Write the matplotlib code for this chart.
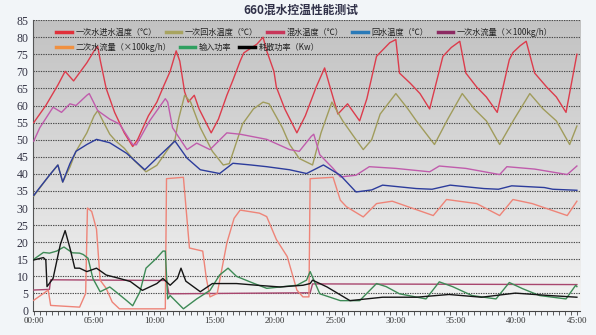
import numpy as np
import matplotlib
matplotlib.use("Agg")
import matplotlib.pyplot as plt
from matplotlib.colors import LinearSegmentedColormap
from matplotlib.lines import Line2D

plt.rcParams['font.family'] = ['Noto Sans CJK SC', 'DejaVu Sans']

title = "660混水控温性能测试"
names = ["一次水进水温度（℃）", "一次回水温度（℃）", "混水温度（℃）", "回水温度（℃）",
         "一次水流量（×100kg/h）", "二次水流量（×100kg/h）", "输入功率", "耗散功率（Kw）"]

# time in minutes
red_t = [0, 1, 2, 2.6, 3.3, 4.4, 5.0, 5.3, 5.5, 6.0, 6.7, 7.5, 8.2, 8.6, 9.5, 10.2, 10.8, 11.3, 11.8, 12.1,
         12.5, 12.8, 13.3, 13.7, 14.7, 15.3, 16.0, 16.5, 17.1, 17.4, 18.5, 19.0, 19.3, 19.9, 20.1, 20.8, 21.8,
         22.5, 23.4, 24.1, 24.5, 25.2, 26.0, 27.0, 27.6, 28.4, 29.5, 30.0, 30.3, 31.2, 32.0, 32.8, 33.9, 34.6,
         35.3, 35.8, 36.7, 37.5, 38.4, 39.4, 39.7, 40.3, 40.8, 41.5, 42.5, 43.3, 44.1, 45.0]
red_v = [55, 60, 66, 70, 67.2, 72.5, 76, 77.3, 73.4, 65, 58, 52, 48, 50, 57, 61, 66, 70, 76, 73,
         64, 61, 63, 59, 52, 56, 63, 67.4, 73, 75.4, 78, 80, 76, 70, 65.4, 59, 52,
         57, 65.4, 71, 66, 57.5, 60.5, 55.5, 62, 74.4, 78.4, 79.3, 69.5, 66.5, 63.5, 59, 74.4, 77,
         78.8, 69.5, 65.4, 62.5, 58, 73.4, 75.5, 77.5, 78.8, 69.5, 65.4, 62.5, 58, 75]

olive_t = [0, 1.3, 2.0, 2.4, 3.0, 3.5, 4.4, 5.0, 5.3, 5.8, 6.3, 6.8, 7.5, 8.3, 9.3, 10.2, 11.0, 11.7, 12.0, 12.5,
           13.0, 13.8, 14.8, 15.7, 16.2, 17.3, 18.2, 19.0, 19.5, 20.6, 21.2, 22.0, 23.1, 23.8, 24.7, 25.6, 26.5,
           27.3, 28.0, 28.7, 30.0, 31.0, 31.7, 33.2, 34.3, 35.5, 36.5, 37.5, 38.6, 39.8, 41.1, 42.2, 43.3, 44.4, 45.0]
olive_v = [33.5, 39.6, 42.6, 37.6, 42, 46.6, 52, 57, 58.5, 55, 51.6, 49.6, 47.5, 44, 40.6, 42.5, 46.6, 50, 56, 63,
           61, 53.5, 46.6, 42.6, 43, 54.6, 59, 61, 60.5, 53.5, 48.6, 44.5, 42.6, 52, 61, 55.5, 51,
           47.1, 50, 57.5, 63.5, 59, 55.5, 48.6, 56, 63.5, 59, 55.5, 48.6, 56, 63.5, 59, 55.5, 48.6, 54]

mix_t = [0, 0.5, 1.6, 2.3, 3.0, 3.5, 4.4, 4.6, 5.3, 6.3, 7.1, 8.2, 8.5, 9.6, 10.9, 11.1, 11.5, 12.7, 13.5, 14.6,
         16.0, 17.1, 19.3, 21.2, 22.0, 23.0, 23.2, 23.7, 24.8, 25.4, 26.7, 27.8, 30.0, 32.8, 33.6, 35.8, 38.6,
         39.2, 41.5, 44.2, 45.0]
mix_v = [49.6, 53.5, 59.5, 58, 60.5, 60, 63, 63.5, 58.5, 56, 54.6, 48.6, 48.5, 55.5, 62, 61, 53.5, 47.1, 49, 47.1,
         52, 51.6, 50.1, 47.1, 46.6, 51, 51.6, 45.6, 41.6, 39.1, 39.6, 42.1, 41.6, 40.6, 42.3, 41.6, 39.8,
         42.1, 41.4, 39.8, 42.3]

blue_t = [0, 0.5, 1.3, 2.0, 2.4, 3.0, 3.5, 4.4, 5.2, 6.3, 7.7, 9.2, 10.2, 11.7, 12.7, 13.8, 15.4, 16.5, 18.0, 19.3,
          21.2, 22.6, 24.0, 25.4, 26.7, 28.0, 28.9, 31.7, 33.0, 34.5, 37.3, 38.5, 39.6, 42.3, 43.0, 45.0]
blue_v = [33.7, 36, 39.6, 42.6, 37.6, 43, 46.6, 48.6, 50.1, 49.1, 46, 41.2, 44.6, 49.6, 44.6, 41.2, 40.1, 43.1, 42.6, 42.1,
          41.2, 40.1, 42.6, 39.6, 34.7, 35.3, 36.7, 35.7, 35.5, 36.7, 35.7, 35.5, 36.5, 36.0, 35.5, 35.2]

pflow_t = [0, 1.3, 1.4, 11.0, 11.2, 22.9, 23.1, 45.0]
pflow_v = [6, 6.2, 9, 8.8, 4.9, 5.2, 7.8, 7.6]

sflow_t = [0, 1.2, 1.4, 3.8, 4.3, 4.45, 4.8, 5.2, 5.5, 6.0, 6.5, 7.1, 10.9, 11.0, 12.4, 12.9, 14.0, 14.3, 14.6, 15.2,
           16.0, 16.6, 17.1, 18.7, 19.3, 20.1, 21.0, 21.8, 22.3, 22.8, 22.9, 24.8, 25.4, 25.9, 27.3, 28.4, 29.7,
           33.1, 34.2, 36.7, 38.6, 39.7, 41.3, 44.2, 45.0]
sflow_v = [3, 6, 1.5, 1, 5, 30, 29, 23.8, 8.9, 6.5, 2.5, 0.5, 0.5, 38.6, 39, 18.3, 17.4, 9.4, 4, 5,
           19.8, 27, 29.4, 28.5, 27.5, 20.8, 15.8, 6, 4, 4, 38.6, 39, 32.3, 30.4, 27.4, 31.3, 32,
           27.8, 32.5, 31.3, 27.8, 32.5, 31.3, 27.8, 32]

pin_t = [0, 0.8, 1.3, 1.9, 2.5, 3.2, 3.8, 4.1, 4.5, 4.9, 5.5, 6.3, 6.8, 7.7, 8.2, 8.8, 9.3, 10.2, 10.7, 10.9,
         11.1, 11.3, 12.4, 13.5, 14.6, 15.4, 16.1, 16.8, 18.2, 19.3, 20.7, 21.8, 22.6, 22.9, 23.7, 25.4, 27.0,
         28.4, 29.2, 30.3, 32.5, 33.6, 34.7, 36.3, 38.3, 39.4, 40.5, 41.9, 44.1, 44.9, 45.0]
pin_v = [15, 17, 16.8, 17.4, 18.6, 16.9, 16.8, 16.4, 15.3, 9.4, 5.5, 6.9, 5.5, 2.9, 1.4, 5.5, 12.4, 15.4, 17.4, 17.4,
         3.4, 4.4, 0.5, 3.4, 5.9, 10.4, 12.4, 10, 8, 6.5, 7, 7.4, 8.9, 11.4, 4.9, 2.9, 2.9,
         7.9, 7, 4.9, 3.4, 8.4, 7, 4.4, 3.4, 8.2, 6.4, 4.4, 3.4, 7.4, 7]

pdis_t = [0, 0.8, 1.0, 1.1, 1.6, 2.2, 2.6, 3.0, 3.4, 3.8, 4.4, 5.2, 6.0, 7.1, 8.0, 9.0, 10.2, 10.7, 11.3, 11.9,
          12.2, 12.6, 13.8, 14.8, 16.8, 18.5, 20.4, 22.3, 22.9, 23.1, 24.3, 26.2, 28.9, 31.7, 34.4, 37.1, 39.9,
          42.7, 45.0]
pdis_v = [14.8, 15.5, 14.8, 7, 9.4, 19.3, 23.4, 18.3, 12.4, 12.4, 11.4, 12.4, 10.4, 9.4, 8.5, 5.9, 7.9, 9.4, 7.4, 9.4,
          12.4, 8.6, 5.5, 7.9, 7.9, 7.4, 6.9, 7.4, 7.9, 8.9, 6.9, 2.9, 3.9, 3.9, 4.7, 3.9, 5.1,
          4.4, 3.9]

x_ticks = [0, 5, 10, 15, 20, 25, 30, 35, 40, 45]
x_labels = ["00:00", "05:00", "10:00", "15:00", "20:00", "25:00", "30:00", "35:00", "40:00", "45:00"]
y_ticks = list(range(0, 90, 5))

series = [
    (red_t, red_v, '#dc3c4c'),
    (olive_t, olive_v, '#a09c5c'),
    (mix_t, mix_v, '#c05cac'),
    (blue_t, blue_v, '#2c3c9c'),
    (pflow_t, pflow_v, '#a8466e'),
    (sflow_t, sflow_v, '#ee8478'),
    (pin_t, pin_v, '#3e8a56'),
    (pdis_t, pdis_v, '#151515'),
]
legend_colors = ['#e0303a', '#a8a460', '#c8365a', '#2a7ab8', '#8c2a62', '#f09040', '#30a060', '#000000']

fig = plt.figure(figsize=(5.96, 3.35), dpi=100)
fig.patch.set_facecolor('#f2f5f8')
ax = fig.add_axes([0.055, 0.073, 0.918, 0.867])

xmin, xmax = -0.08, 45.25
ymin, ymax = 0, 85
cmap = LinearSegmentedColormap.from_list('bg', ['#c2c2c2', '#dadada', '#f4f4f4'])
ax.imshow(np.linspace(0, 1, 256).reshape(-1, 1), cmap=cmap, extent=[xmin, xmax, ymin, ymax],
          aspect='auto', zorder=0, interpolation='bilinear')

for y in y_ticks[1:]:
    ax.axhline(y, color='#4a4a4a', lw=0.8, ls=(0, (1.2, 1.0)), zorder=1)

for t, v, c in series:
    ax.plot(t, v, color=c, lw=1.0, zorder=3)

ax.set_xlim(xmin, xmax)
ax.set_ylim(ymin, ymax)
ax.set_xticks(x_ticks)
ax.set_xticklabels(x_labels, fontfamily='Liberation Serif', fontsize=6.5, color='#333')
ax.set_xticks(np.arange(0, 45.01, 0.5), minor=True)
ax.set_yticks(y_ticks)
ax.set_yticklabels([str(y) for y in y_ticks], fontfamily='Liberation Serif', fontsize=8.5, color='#333344')
ax.tick_params(axis='x', which='both', direction='out', length=3, width=0.6, color='#444', pad=1.5)
ax.tick_params(axis='y', length=0, pad=3)
for s in ['top', 'right']:
    ax.spines[s].set_visible(False)
ax.spines['left'].set_color('#555')
ax.spines['bottom'].set_color('#444')
ax.spines['left'].set_linewidth(0.8)
ax.spines['bottom'].set_linewidth(0.8)

handles = [Line2D([0], [0], color=c, lw=2.5) for c in legend_colors]
leg1 = ax.legend(handles[:5], names[:5], loc='upper left', bbox_to_anchor=(0.043, 0.975), ncol=5,
                 frameon=False, fontsize=5.9, handlelength=1.9, handletextpad=0.45, columnspacing=1.1,
                 borderpad=0, borderaxespad=0)
for txt in leg1.get_texts():
    txt.set_color('#222')
ax.add_artist(leg1)
leg2 = ax.legend(handles[5:], names[5:], loc='upper left', bbox_to_anchor=(0.043, 0.922), ncol=3,
                 frameon=False, fontsize=5.9, handlelength=1.9, handletextpad=0.45, columnspacing=1.0,
                 borderpad=0, borderaxespad=0)
for txt in leg2.get_texts():
    txt.set_color('#222')

fig.text(0.505, 0.968, title, ha='center', va='center', fontsize=8.5, fontweight='bold', color='#303048')

fig.savefig('out.png', dpi=100, facecolor=fig.get_facecolor())
